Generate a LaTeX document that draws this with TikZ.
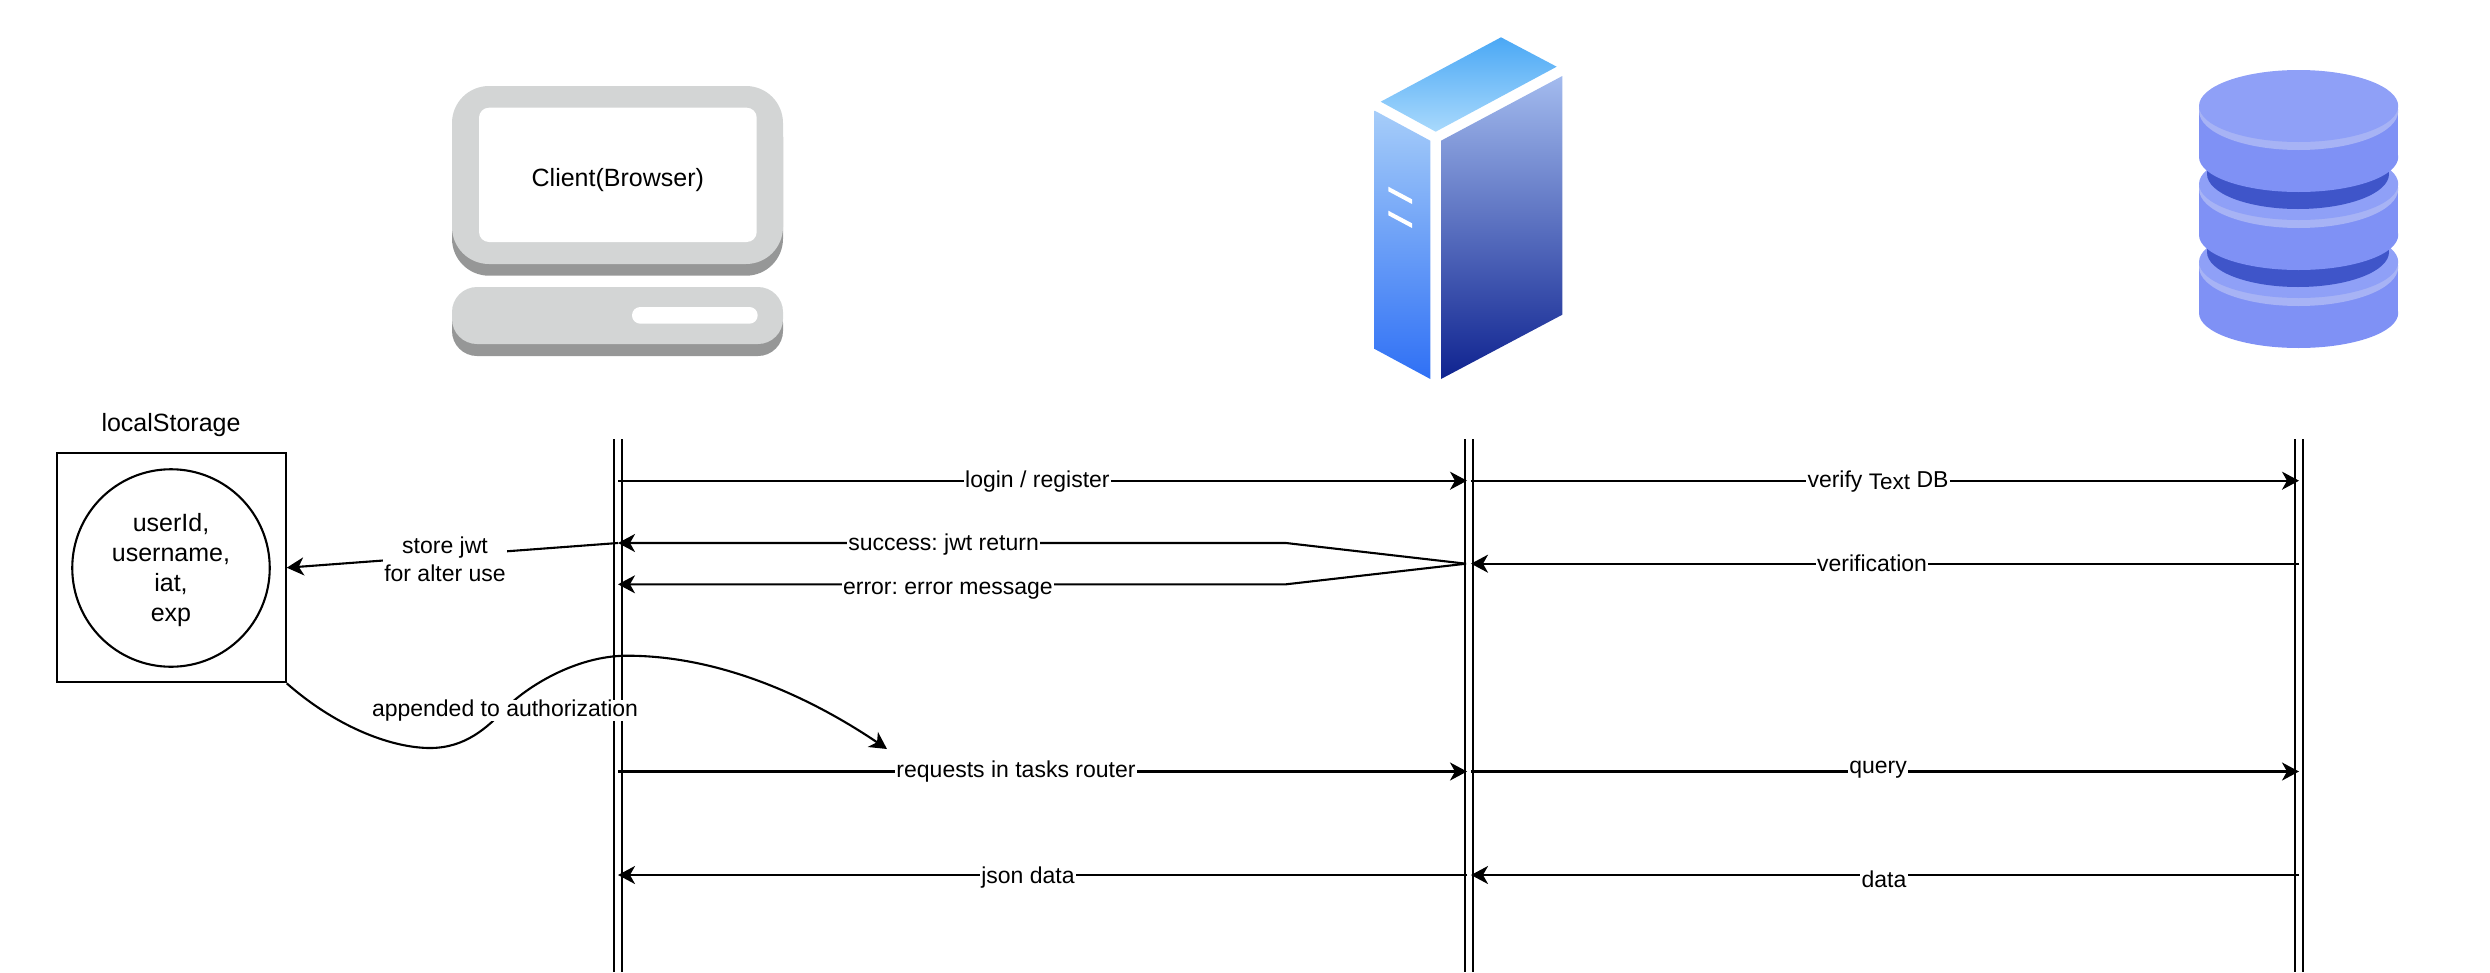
\documentclass[tikz,border=0pt]{standalone}
\usepackage{fontspec}
\setmainfont{Liberation Sans}
\usetikzlibrary{arrows.meta}
\definecolor{pcface}{HTML}{D3D5D5}
\definecolor{pcshade}{HTML}{969797}
\definecolor{dbwall}{HTML}{7F91F5}
\definecolor{dbface}{HTML}{8FA0F7}
\definecolor{dbrim}{HTML}{A7B3F5}
\definecolor{dbdark}{HTML}{3F55C9}
\newcommand{\dbdisc}[1]{% Disc of the database.
  \fill[dbwall] (2199,#1) rectangle (2398.2,{#1+49});
  \fill[dbwall] (2298.6,{#1+49}) ellipse [x radius=99.6pt,y radius=35pt];
  \fill[dbrim] (2298.6,{#1+3}) ellipse [x radius=99.6pt,y radius=39pt];
  \fill[dbface] (2298.6,{#1-2}) ellipse [x radius=99.6pt,y radius=36pt];
}
\newcommand{\dbneck}[1]{% Dark gap under a disc.
  \fill[dbdark] (2207,{#1+40}) rectangle (2389,{#1+66});
  \fill[dbdark] (2298,{#1+66}) ellipse [x radius=91pt,y radius=35pt];
}
\tikzset{
  big/.style={font=\fontsize{25}{29.7}\selectfont\frenchspacing,align=center,inner sep=0pt},
  lbl/.style={font=\fontsize{23}{27.6}\selectfont\frenchspacing,align=center,fill=white,inner xsep=1.5pt,inner ysep=0pt},
  lifeline/.style={line width=2.1pt,double=white,double distance=6.2pt},
  msg/.style={line width=2.1pt,-{Stealth[length=17pt,width=18pt,inset=5pt]}}
}

\begin{document}
\begin{tikzpicture}[x=1pt,y=-1pt]
\useasboundingbox (0,0) rectangle (2490,972);

% computer
\fill[pcshade,rounded corners=37pt] (452,100) rectangle (783,275.7);
\fill[pcface,rounded corners=37pt] (452,86) rectangle (783,264);
\fill[white,rounded corners=10pt] (479,107.7) rectangle (756.7,242);
\fill[pcshade,rounded corners=25pt] (452,298) rectangle (783,356);
\fill[pcface,rounded corners=25pt] (452,287) rectangle (783,344);
\fill[white,rounded corners=8.3pt] (632,307) rectangle (757.7,323.7);
\node[big] (client) at (617.8,180.5) {Client(Browser)};

% server
\shade[top color={rgb,255:red,74;green,168;blue,245},bottom color={rgb,255:red,169;green,217;blue,252}]
  (1501,37.3) -- (1556.7,66.7) -- (1435.7,131.7) -- (1380.7,101.7) -- cycle;
\shade[top color={rgb,255:red,166;green,205;blue,249},bottom color={rgb,255:red,47;green,112;blue,245}]
  (1374.7,110.7) -- (1430.3,140.7) -- (1430.3,379) -- (1374.7,349) -- cycle;
\shade[top color={rgb,255:red,163;green,187;blue,238},bottom color={rgb,255:red,15;green,35;blue,144}]
  (1441,140.7) -- (1562.3,76) -- (1562.3,314.7) -- (1441,379) -- cycle;
\foreach \slit in {0,24}
  \fill[white] (1388.3,186.7+\slit) -- (1412,199.3+\slit) -- (1412,204+\slit) -- (1388.3,191.3+\slit) -- cycle;

% database
\dbdisc{264}
\dbneck{186}
\dbdisc{186}
\dbneck{108}
\dbdisc{108}

% lifelines
\coordinate (clienttop) at (617.8,439);
\coordinate (clientend) at (617.8,972);
\coordinate (servertop) at (1468.7,439);
\coordinate (serverend) at (1468.7,972);
\coordinate (dbtop) at (2299,439);
\coordinate (dbend) at (2299,972);
\draw[lifeline] (clienttop) -- (clientend);
\draw[lifeline] (servertop) -- (serverend);
\draw[lifeline] (dbtop) -- (dbend);

% localStorage
\node[draw,line width=2.1pt,minimum width=229pt,minimum height=229pt,inner sep=0pt] (storage) at (171.2,567.8) {};
\node[draw,circle,line width=2.1pt,minimum size=197.5pt,inner sep=0pt] (payload) at (171,568) {};
\node[big] (payloadtext) at (171,570) {userId,\\username,\\iat,\\exp};
\node[big] (storagetitle) at (171,425.5) {localStorage};

% one row of ends per message
\foreach \rowname/\rowy in {login/480.7,success/543,error/584.3,check/563.7,tasks/771.5,back/875} {
  \coordinate (c\rowname) at (618,\rowy);
  \coordinate (l\rowname) at (1467,\rowy);
  \coordinate (r\rowname) at (1471,\rowy);
  \coordinate (d\rowname) at (2299,\rowy);
}
\coordinate (fork) at (1466,563.7);
\coordinate (forktop) at (1286,543);
\coordinate (forkend) at (1286,584.3);

\draw[msg] (clogin) -- (llogin);
\draw[msg] (rlogin) -- (dlogin);
\draw[msg] (dcheck) -- (rcheck);
\draw[msg] (fork) -- (forktop) -- (csuccess);
\draw[msg] (fork) -- (forkend) -- (cerror);
\draw[msg] (ctasks) -- (ltasks);
\draw[msg] (rtasks) -- (dtasks);
\draw[msg] (dback) -- (rback);
\draw[msg] (lback) -- (cback);

\draw[msg] (csuccess) -- (storage.east |- 0,567.7);
\node[lbl] (storelabel) at (445,559.5) {store jwt\\for alter use};

\coordinate (dip) at (430,748);
\coordinate (crossing) at (505,709);
\coordinate (peak) at (627,655.7);
\coordinate (requestend) at (887,749);
\draw[msg] (storage.south east) .. controls (340,730) and (395,748) .. (dip)
  .. controls (465,748) and (487,728) .. (crossing)
  .. controls (525,688) and (575,655.7) .. (peak)
  .. controls (720,655.7) and (810,697) .. (requestend);
\node[lbl] (appendlabel) at (505,710.5) {appended to authorization};

\node[lbl] (loginlabel) at (1037.4,481.5) {login / register};
\node[lbl] (successlabel) at (943.6,544.5) {success: jwt return};
\node[lbl] (errorlabel) at (947.9,591) {error: error message};
\node[lbl] (tasklabel) at (1016,771.5) {requests in tasks router};
\node[lbl] (jsonlabel) at (1028,878) {json data};
\node[lbl] (verifylabel) at (1878,481.5) {verify \raisebox{-2.5pt}{\fontsize{22.5}{25}\selectfont Text} DB};
\node[lbl] (checklabel) at (1872,563) {verification};
\node[lbl] (querylabel) at (1878,770) {query};
\node[lbl] (datalabel) at (1884,879.4) {data};
\end{tikzpicture}
\end{document}
